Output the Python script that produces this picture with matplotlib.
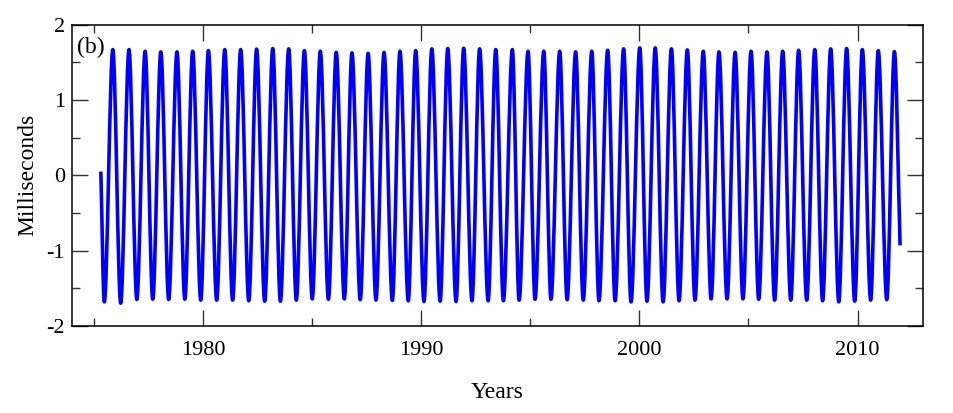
import matplotlib
matplotlib.use("Agg")
import matplotlib.pyplot as plt
import numpy as np
from matplotlib.path import Path
from matplotlib.patches import PathPatch
from matplotlib.ticker import MultipleLocator

plt.rcParams['font.family'] = ['Liberation Serif', 'DejaVu Serif']
plt.rcParams['axes.unicode_minus'] = False

# start and end of the record
t_start, v_start = 1975.32, 0.05
t_end, v_end = 2011.95, -0.93

# troughs (years, ms)
trough_t = [1975.48, 1976.23, 1976.97, 1977.70, 1978.43, 1979.17, 1979.90, 1980.63, 1981.36, 1982.10,
            1982.83, 1983.55, 1984.28, 1985.01, 1985.75, 1986.48, 1987.21, 1987.93, 1988.68, 1989.41,
            1990.13, 1990.87, 1991.60, 1992.33, 1993.07, 1993.77, 1994.49, 1995.22, 1995.95, 1996.69,
            1997.43, 1998.15, 1998.89, 1999.62, 2000.35, 2001.09, 2001.82, 2002.55, 2003.29, 2004.02,
            2004.75, 2005.47, 2006.20, 2006.94, 2007.67, 2008.40, 2009.14, 2009.87, 2010.60, 2011.34]
trough_v = [-1.679, -1.697, -1.648, -1.644, -1.648, -1.644, -1.657, -1.657, -1.657, -1.665,
            -1.671, -1.671, -1.657, -1.640, -1.645, -1.640, -1.650, -1.655, -1.660, -1.665,
            -1.675, -1.670, -1.675, -1.665, -1.665, -1.665, -1.657, -1.645, -1.645, -1.650,
            -1.657, -1.665, -1.665, -1.680, -1.670, -1.680, -1.665, -1.657, -1.640, -1.640,
            -1.640, -1.645, -1.657, -1.657, -1.657, -1.665, -1.680, -1.670, -1.657, -1.650]

# peaks (years, ms)
peak_t = [1975.87, 1976.61, 1977.35, 1978.07, 1978.81, 1979.53, 1980.25, 1981.00, 1981.73, 1982.46,
          1983.20, 1983.93, 1984.65, 1985.38, 1986.11, 1986.83, 1987.57, 1988.30, 1989.03, 1989.75,
          1990.49, 1991.22, 1991.95, 1992.68, 1993.42, 1994.18, 1994.90, 1995.62, 1996.35, 1997.08,
          1997.82, 1998.55, 1999.28, 2000.02, 2000.73, 2001.47, 2002.20, 2002.93, 2003.65, 2004.39,
          2005.12, 2005.85, 2006.57, 2007.30, 2008.04, 2008.77, 2009.50, 2010.22, 2010.95, 2011.69]
peak_v = [1.669, 1.669, 1.647, 1.639, 1.639, 1.647, 1.656, 1.669, 1.669, 1.676,
          1.683, 1.679, 1.656, 1.647, 1.633, 1.626, 1.620, 1.633, 1.647, 1.656,
          1.679, 1.683, 1.687, 1.679, 1.669, 1.669, 1.647, 1.647, 1.647, 1.639,
          1.647, 1.660, 1.679, 1.692, 1.692, 1.679, 1.665, 1.647, 1.639, 1.633,
          1.647, 1.639, 1.647, 1.660, 1.669, 1.679, 1.683, 1.669, 1.656, 1.643]

# put the record together in time order
t = np.concatenate([[t_start], np.column_stack([trough_t, peak_t]).ravel(), [t_end]])
v = np.concatenate([[v_start], np.column_stack([trough_v, peak_v]).ravel(), [v_end]])

# smooth path: flat tangents at the turning points, open ends stay straight
n = len(t)
verts = [(t[0], v[0])]
codes = [Path.MOVETO]
for i in range(n - 1):
    dt = t[i + 1] - t[i]
    dv = v[i + 1] - v[i]
    c1 = (t[i] + dt / 3, v[i] + (dv / 3 if i == 0 else 0))
    c2 = (t[i + 1] - dt / 3, v[i + 1] - (dv / 3 if i == n - 2 else 0))
    verts += [c1, c2, (t[i + 1], v[i + 1])]
    codes += [Path.CURVE4] * 3

fig = plt.figure(figsize=(9.54, 4.13), dpi=100)
ax = fig.add_axes([0.0755, 0.2107, 0.892, 0.7295])

ax.add_patch(PathPatch(Path(verts, codes), facecolor='none', edgecolor='#0000ff',
                       lw=2.6, joinstyle='round', capstyle='butt'))

ax.set_xlim(1974, 2013)
ax.set_ylim(-2, 2)
ax.xaxis.set_major_locator(MultipleLocator(10))
ax.xaxis.set_minor_locator(MultipleLocator(5))
ax.yaxis.set_major_locator(MultipleLocator(1))
ax.yaxis.set_minor_locator(MultipleLocator(0.5))
ax.tick_params(which='both', direction='in', top=True, right=True, width=1.0, color='#333333')
ax.tick_params(which='major', length=11.5, labelsize=16)
ax.tick_params(axis='x', which='major', pad=11)
ax.tick_params(axis='y', which='major', pad=5)
ax.tick_params(which='minor', length=5.8)
for s in ax.spines.values():
    s.set_linewidth(1.1)

ax.set_xlabel('Years', fontsize=17, labelpad=16)
ax.set_ylabel('Milliseconds', fontsize=17, labelpad=6)
ax.text(0.006, 0.96, '(b)', transform=ax.transAxes, fontsize=17, va='top', ha='left')

fig.savefig('out.png', dpi=100)
